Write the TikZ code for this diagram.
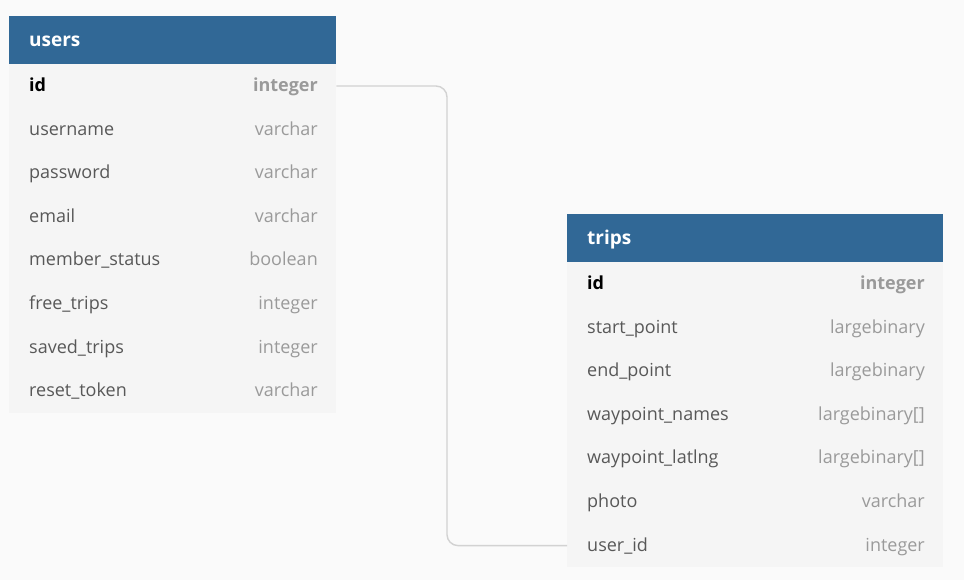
\documentclass[tikz,border=0pt]{standalone}
\usepackage{fontspec}
\setmainfont{Open Sans}
\definecolor{bgc}{HTML}{FAFAFA}
\definecolor{hdr}{HTML}{316896}
\definecolor{body}{HTML}{F5F5F5}
\definecolor{fname}{HTML}{585858}
\definecolor{ftype}{HTML}{9A9A9A}
\definecolor{conn}{HTML}{D2D2D2}
\begin{document}
\begin{tikzpicture}[x=1pt,y=-1pt,
  hdrbox/.style={fill=hdr,draw=none,anchor=north west,minimum height=48pt,inner sep=0pt},
  rowbox/.style={fill=body,draw=none,anchor=north west,minimum height=43.6pt,inner sep=0pt},
  fld/.style={anchor=base west,inner sep=0pt,text=fname,font=\fontsize{18}{20}\selectfont},
  pkfld/.style={anchor=base west,inner sep=0pt,text=black,font=\fontsize{18}{20}\selectfont\bfseries},
  typ/.style={anchor=base east,inner sep=0pt,text=ftype,font=\fontsize{18}{20}\selectfont},
  pktyp/.style={anchor=base east,inner sep=0pt,text=ftype,font=\fontsize{18}{20}\selectfont\bfseries},
  title/.style={anchor=base west,inner sep=0pt,text=white,font=\fontsize{19}{21}\selectfont\bfseries},
  connline/.style={draw=conn,line width=1.4pt,rounded corners=11pt}]
\fill[bgc] (0,0) rectangle (964,580);
\useasboundingbox (0,0) rectangle (964,580);
% users table
\node[hdrbox,minimum width=327pt] (usershdr) at (9,16) {};
\node[title] (userstitle) at (29,46.5) {users};
\foreach \i in {0,...,7}{
  \node[rowbox,minimum width=327pt] (urow\i) at (9,{64+43.6*\i}) {};
}
\node[pkfld] (ufn0) at (29,91.5) {id};
\node[pktyp] (uft0) at (318,91.5) {integer};
\foreach \i/\n/\t in {1/username/varchar,2/password/varchar,3/email/varchar,4/member\_status/boolean,5/free\_trips/integer,6/saved\_trips/integer,7/reset\_token/varchar}{
  \node[fld] (ufn\i) at (29,{91.5+43.6*\i}) {\n};
  \node[typ] (uft\i) at (318,{91.5+43.6*\i}) {\t};
}
% trips table
\node[hdrbox,minimum width=376pt] (tripshdr) at (567,214) {};
\node[title] (tripstitle) at (587,244.5) {trips};
\foreach \i in {0,...,6}{
  \node[rowbox,minimum width=376pt] (trow\i) at (567,{262+43.6*\i}) {};
}
\node[pkfld] (tfn0) at (587,289.5) {id};
\node[pktyp] (tft0) at (925,289.5) {integer};
\foreach \i/\n/\t in {1/start\_point/largebinary,2/end\_point/largebinary,3/waypoint\_names/largebinary[],4/waypoint\_latlng/largebinary[],5/photo/varchar,6/user\_id/integer}{
  \node[fld] (tfn\i) at (587,{289.5+43.6*\i}) {\n};
  \node[typ] (tft\i) at (925,{289.5+43.6*\i}) {\t};
}
% connector
\coordinate (bend) at (447,0);
\draw[connline] (urow0.east) -- (urow0.east -| bend) -- (bend |- trow6.west) -- (trow6.west);
\end{tikzpicture}
\end{document}
